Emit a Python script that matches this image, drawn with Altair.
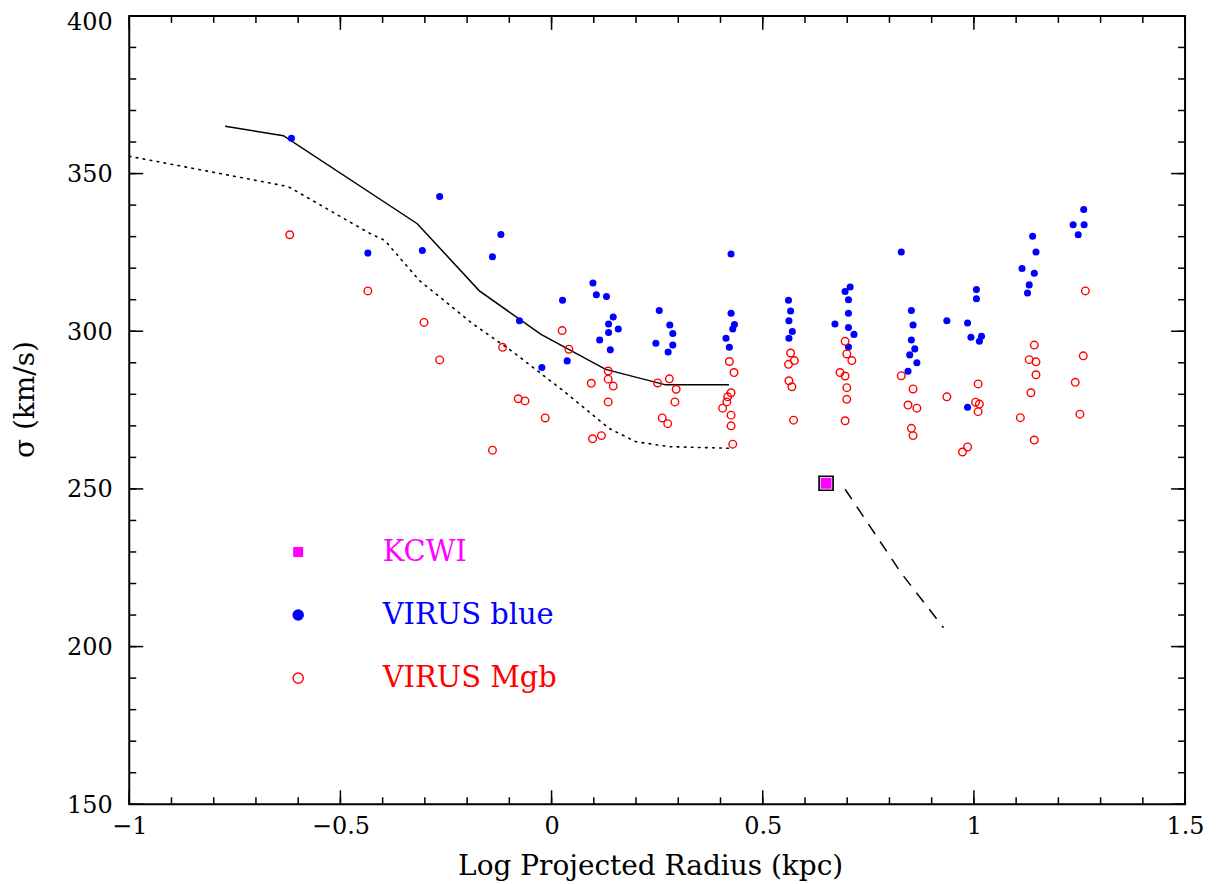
import altair as alt
import pandas as pd

# ---------------- data ----------------
blue_x = [-0.616, -0.435, -0.306, -0.265, -0.140, -0.120, -0.076, -0.023, 0.026, 0.037,
          0.098, 0.106, 0.130, 0.146, 0.135, 0.158, 0.135, 0.114, 0.139,
          0.255, 0.280, 0.287, 0.247, 0.287, 0.276,
          0.425, 0.425, 0.433, 0.429, 0.413, 0.421,
          0.561, 0.566, 0.562, 0.570, 0.562,
          0.707, 0.695, 0.703, 0.703, 0.671, 0.703, 0.716, 0.703,
          0.828, 0.852, 0.856, 0.852, 0.860, 0.848, 0.865, 0.844,
          0.936, 0.985, 1.006, 1.006, 0.993, 1.018, 1.013, 0.985,
          1.139, 1.147, 1.114, 1.143, 1.131, 1.127,
          1.260, 1.235, 1.261, 1.247]
blue_y = [361.2, 324.8, 325.6, 342.7, 323.6, 330.7, 303.3, 288.5, 309.8, 290.6,
          315.3, 311.6, 311.0, 304.5, 302.3, 300.7, 299.6, 297.2, 294.1,
          306.6, 302.0, 299.3, 296.2, 295.6, 293.4,
          324.5, 305.7, 302.1, 300.7, 297.8, 294.9,
          309.8, 306.4, 303.3, 299.9, 297.8,
          314.0, 312.6, 310.0, 305.7, 302.3, 301.2, 299.0, 295.0,
          325.1, 306.6, 302.0, 297.2, 294.4, 292.5, 290.0, 287.3,
          303.3, 302.6, 313.2, 310.3, 298.1, 298.4, 296.8, 275.9,
          330.1, 325.1, 319.9, 318.4, 314.7, 312.1,
          338.6, 333.8, 333.8, 330.6]

red_x = [-0.620, -0.435, -0.302, -0.265, -0.140, -0.116, -0.079, -0.063, -0.015, 0.025,
         0.041, 0.094, 0.097, 0.118, 0.134, 0.134, 0.146, 0.134,
         0.251, 0.279, 0.295, 0.292, 0.262, 0.275,
         0.421, 0.432, 0.425, 0.417, 0.415, 0.405, 0.425, 0.425, 0.429,
         0.566, 0.575, 0.561, 0.562, 0.569, 0.573,
         0.695, 0.699, 0.711, 0.683, 0.695, 0.699, 0.699, 0.695,
         0.828, 0.856, 0.844, 0.865, 0.852, 0.856,
         0.936, 1.010, 1.004, 1.013, 1.010, 0.985, 0.973,
         1.143, 1.131, 1.147, 1.147, 1.135, 1.110, 1.143,
         1.264, 1.259, 1.240, 1.251]
red_y = [330.6, 312.8, 302.8, 290.9, 262.3, 294.9, 278.6, 277.9, 272.5, 300.2,
         294.3, 283.5, 265.9, 266.9, 287.4, 284.8, 282.6, 277.6,
         283.6, 284.9, 281.6, 277.6, 272.5, 270.7,
         290.4, 286.9, 280.5, 279.2, 277.6, 275.6, 273.4, 270.0, 264.2,
         293.1, 290.7, 289.5, 284.3, 282.4, 271.8,
         296.8, 292.8, 290.7, 286.9, 285.8, 282.1, 278.4, 271.6,
         285.9, 281.7, 276.6, 275.6, 269.2, 266.9,
         279.2, 283.3, 277.5, 276.9, 274.5, 263.3, 261.7,
         295.6, 291.0, 290.3, 286.2, 280.5, 272.6, 265.5,
         312.8, 292.2, 283.8, 273.7]

kcwi_x = [0.650]
kcwi_y = [251.8]

solid_x = [-0.773, -0.635, -0.318, -0.171, -0.025, 0.128, 0.270, 0.420]
solid_y = [365.0, 362.0, 334.1, 312.8, 299.0, 287.9, 283.0, 283.0]

dotted_x = [-1.0, -0.624, -0.43, -0.395, -0.313, -0.187, -0.092, 0.026, 0.136, 0.199, 0.278, 0.420]
dotted_y = [355.5, 345.9, 331.0, 328.8, 316.1, 302.4, 293.5, 281.3, 269.2, 265.0, 263.4, 262.9]

dashed_x = [0.695, 0.828, 0.928]
dashed_y = [249.9, 223.3, 206.0]

legend_labels = ["KCWI", "VIRUS blue", "VIRUS Mgb"]
legend_colors = ["#ff00ff", "#0000ff", "#ff0000"]
legend_y = [230, 210, 190]
legend_sym_x = -0.6
legend_text_x = -0.4

x_major = [-1.0, -0.5, 0.0, 0.5, 1.0, 1.5]
x_minor = [round(-1.0 + 0.1 * i, 1) for i in range(26)]
y_major = [150, 200, 250, 300, 350, 400]
y_minor = list(range(150, 401, 10))

# ---------------- layout ----------------
W, H = 1058, 790
FONT = "DejaVu Serif"
MAJ, MIN = 14, 7

xs = alt.Scale(domain=[-1, 1.5], nice=False, zero=False)
ys = alt.Scale(domain=[150, 400], nice=False, zero=False)

pts_blue = pd.DataFrame({"x": blue_x, "y": blue_y})
pts_red = pd.DataFrame({"x": red_x, "y": red_y})
kcwi = pd.DataFrame({"x": kcwi_x, "y": kcwi_y})
solid = pd.DataFrame({"x": solid_x, "y": solid_y, "o": range(len(solid_x))})
dotted = pd.DataFrame({"x": dotted_x, "y": dotted_y, "o": range(len(dotted_x))})
dashed = pd.DataFrame({"x": dashed_x, "y": dashed_y, "o": range(len(dashed_x))})
leg = pd.DataFrame({"label": legend_labels, "c": legend_colors, "y": legend_y,
                    "x": [legend_sym_x] * 3, "xt": [legend_text_x] * 3})

XT = "Log Projected Radius (kpc)"
YT = "σ (km/s)"

x_axis = alt.Axis(values=x_major, format="~g", title=XT,
                  grid=False, ticks=False, tickSize=0, domain=False,
                  labelFont=FONT, labelFontSize=24, labelColor="black", labelPadding=10,
                  labelFlush=False, labelOverlap=False,
                  titleFont=FONT, titleFontSize=28, titleFontWeight="normal", titleColor="black",
                  titleBaseline="alphabetic", titleY=70, titleX=522)
y_axis = alt.Axis(values=y_major, format="d", title=YT,
                  grid=False, ticks=False, tickSize=0, domain=False,
                  labelFont=FONT, labelFontSize=24, labelColor="black", labelPadding=17,
                  labelFlush=False, labelOverlap=False,
                  labelOffset={"condition": {"test": "datum.value == 400", "value": 7}, "value": 1},
                  titleFont=FONT, titleFontSize=28, titleFontWeight="normal", titleColor="black",
                  titleAngle=270, titleBaseline="middle", titleAlign="center",
                  titleX=-104, titleY=384)


def X(field):
    return alt.X(f"{field}:Q", scale=xs, axis=x_axis, title=XT)


def Y(field):
    return alt.Y(f"{field}:Q", scale=ys, axis=y_axis, title=YT)


base_line = alt.Chart(solid).mark_line(color="black", strokeWidth=1.5, clip=True).encode(
    x=X("x"), y=Y("y"), order="o:Q")
dot_line = alt.Chart(dotted).mark_line(color="black", strokeWidth=1.6, strokeDash=[1.6, 5.5],
                                        strokeCap="round", clip=True).encode(
    x=X("x"), y=Y("y"), order="o:Q")
dash_line = alt.Chart(dashed).mark_line(color="black", strokeWidth=1.5, strokeDash=[12, 9],
                                         clip=True).encode(
    x=X("x"), y=Y("y"), order="o:Q")

blue = alt.Chart(pts_blue).mark_point(shape="circle", filled=True, color="#0000ff",
                                      size=50, opacity=1).encode(x=X("x"), y=Y("y"))
red = alt.Chart(pts_red).mark_point(shape="circle", filled=False, color="#ff0000",
                                    size=58, strokeWidth=1.4, opacity=1).encode(x=X("x"), y=Y("y"))
kcwi_box = alt.Chart(kcwi).mark_point(shape="square", filled=False, color="black",
                                      size=196, strokeWidth=1.7, opacity=1).encode(x=X("x"), y=Y("y"))
kcwi_fill = alt.Chart(kcwi).mark_point(shape="square", filled=True, color="#ff00ff",
                                       size=121, opacity=1).encode(x=X("x"), y=Y("y"))

leg_sq = alt.Chart(leg[leg.label == "KCWI"]).mark_point(
    shape="square", filled=True, color="#ff00ff", size=100, opacity=1).encode(x=X("x"), y=Y("y"))
leg_bl = alt.Chart(leg[leg.label == "VIRUS blue"]).mark_point(
    shape="circle", filled=True, color="#0000ff", size=133, opacity=1).encode(x=X("x"), y=Y("y"))
leg_rd = alt.Chart(leg[leg.label == "VIRUS Mgb"]).mark_point(
    shape="circle", filled=False, color="#ff0000", size=105, strokeWidth=1.4,
    opacity=1).encode(x=X("x"), y=Y("y"))
leg_txt = alt.Chart(leg).mark_text(align="left", baseline="middle", font=FONT, fontSize=29).encode(
    x=X("xt"), y=Y("y"), text="label:N", color=alt.Color("c:N", scale=None))


# inward ticks on all four sides
def xticks(vals, length):
    d = pd.DataFrame({"x": vals})
    bot = alt.Chart(d).mark_rule(color="black", strokeWidth=1.5).encode(
        x=X("x"), y=alt.value(H), y2=alt.value(H - length))
    top = alt.Chart(d).mark_rule(color="black", strokeWidth=1.5).encode(
        x=X("x"), y=alt.value(0), y2=alt.value(length))
    return [bot, top]


def yticks(vals, length):
    d = pd.DataFrame({"y": vals})
    left = alt.Chart(d).mark_rule(color="black", strokeWidth=1.5).encode(
        y=Y("y"), x=alt.value(0), x2=alt.value(length))
    right = alt.Chart(d).mark_rule(color="black", strokeWidth=1.5).encode(
        y=Y("y"), x=alt.value(W), x2=alt.value(W - length))
    return [left, right]


ticks = xticks(x_major, MAJ) + xticks(x_minor, MIN) + yticks(y_major, MAJ) + yticks(y_minor, MIN)

chart = alt.layer(
    base_line, dot_line, dash_line, *ticks, blue, red, kcwi_box, kcwi_fill,
    leg_sq, leg_bl, leg_rd, leg_txt
).properties(
    width=W, height=H,
    autosize=alt.AutoSizeParams(type="none"),
    padding={"left": 121.5, "top": 7, "right": 30, "bottom": 85},
).configure(
    font=FONT, background="white"
).configure_view(
    stroke="black", strokeWidth=2, fill="white"
).configure_axis(
    labelFont=FONT, titleFont=FONT, labelColor="black", titleColor="black",
    titleFontWeight="normal"
)

chart.save("out.html", embed_options={"renderer": "svg", "actions": False})
